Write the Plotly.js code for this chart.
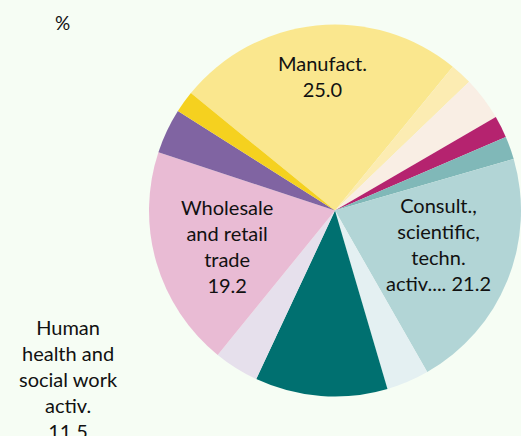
<!DOCTYPE html>
<html>
<head>
<meta charset="utf-8">
<script src="https://cdn.plot.ly/plotly-3.0.1.min.js"></script>
<style>
html,body{margin:0;padding:0;background:#f6fdf4;overflow:hidden;}
#chart{width:521px;height:436px;}
</style>
</head>
<body>
<div id="chart"></div>
<script>
// Data (shares of total, %)
const categories = [
  "Manufact.",
  "Electricity, gas, steam",
  "Construction",
  "Transport and storage",
  "Information and communic.",
  "Consult., scientific, techn. activ.",
  "Administrative and support",
  "Human health and social work activ.",
  "Education",
  "Wholesale and retail trade",
  "Accommodation and food",
  "Other services"
];
const values = [25.0, 1.9, 3.8, 1.9, 2.0, 21.2, 3.7, 11.5, 3.9, 19.2, 3.9, 1.9];
// Label text shown on the chart (wrapped as in the original), empty = no label
const shownLabels = [
  "Manufact.<br>",
  "", "", "", "",
  "Consult.,<br>scientific,<br>techn.<br>activ.... ",
  "",
  "Human<br>health and<br>social work<br>activ.<br>",
  "",
  "Wholesale<br>and retail<br>trade<br>",
  "", ""
];
const colors = ["#fae78e","#fcecb2","#f9eee4","#b5236f","#80b8b8","#b2d5d6",
                "#e4f0f2","#007070","#e6e0ec","#e9bbd4","#8064a2","#f5d11f"];

// Label anchor points (pixels: centre x, top y)
const labelPos = {0: [322, 49], 5: [438, 191], 7: [68, 313], 9: [227, 193]};

const FONT = "Lato, 'Open Sans', sans-serif";
const W = 521, H = 436;

const trace = {
  type: "pie",
  labels: categories,
  values: values,
  textinfo: "none",
  sort: false,
  direction: "clockwise",
  rotation: -50.8,
  marker: {colors: colors, line: {width: 0}},
  domain: {x: [0.286, 1], y: [0.088, 0.946]},
  showlegend: false,
  hoverinfo: "label+value"
};

const annotations = [
  {text: "%", xref: "paper", yref: "paper", x: 62/W, y: 1 - 22/H,
   xanchor: "center", yanchor: "middle", showarrow: false,
   font: {family: FONT, size: 19, color: "#111111"}}
];
values.forEach((v, i) => {
  if (!shownLabels[i]) return;
  const p = labelPos[i];
  annotations.push({
    text: shownLabels[i] + v.toFixed(1),
    xref: "paper", yref: "paper", x: p[0]/W, y: 1 - p[1]/H,
    xanchor: "center", yanchor: "top", align: "center", showarrow: false,
    font: {family: FONT, size: 20, color: "#111111"}
  });
});

const layout = {
  width: W, height: H,
  margin: {l: 0, r: 0, t: 0, b: 0},
  paper_bgcolor: "#f6fdf4",
  plot_bgcolor: "#f6fdf4",
  font: {family: FONT, size: 20, color: "#111111"},
  annotations: annotations
};

Plotly.newPlot("chart", [trace], layout, {displayModeBar: false, staticPlot: true});
</script>
</body>
</html>
